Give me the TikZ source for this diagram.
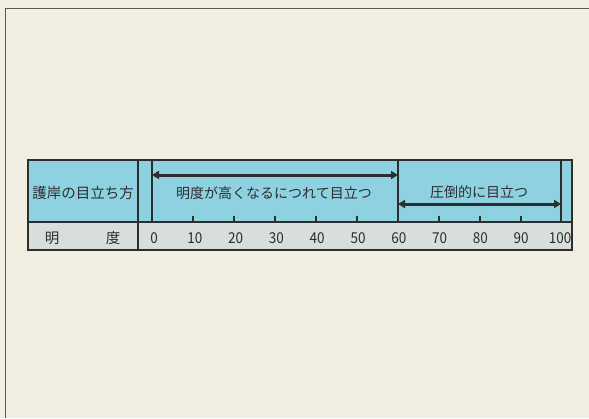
\documentclass[tikz,border=0pt]{standalone}
\usepackage{fontspec}
\setmainfont{Noto Sans CJK JP}
\usetikzlibrary{arrows.meta}
\definecolor{paper}{RGB}{241,239,226}
\definecolor{cyanfill}{RGB}{142,210,226}
\definecolor{greyfill}{RGB}{216,222,218}
\definecolor{ink}{RGB}{45,45,45}
\tikzset{
  lbl/.style={font=\fontsize{14}{15}\selectfont, text=ink, inner sep=0pt},
  hdr/.style={font=\fontsize{14.5}{15}\selectfont, text=ink, inner sep=0pt},
  num/.style={font=\fontsize{15}{16}\selectfont, text=ink, inner sep=0pt, xscale=0.9, transform shape},
  thin line/.style={draw=ink, line width=1.2pt},
  rangearrow/.style={draw=ink, line width=3pt, {Triangle[length=7pt,width=8pt]}-{Triangle[length=7pt,width=8pt]}},
  tickmark/.style={draw=ink, line width=1.1pt}
}
\begin{document}
\begin{tikzpicture}[x=1pt,y=-1pt]
\useasboundingbox (0,0) rectangle (589,418);
\fill[paper] (0,0) rectangle (589,418);
% page frame
\draw[ink!80, line width=0.8pt] (5,418) -- (5,8) -- (589,8);
% table fills
\fill[cyanfill] (28,160) rectangle (572,222);
\fill[greyfill] (28,222) rectangle (572,250);
% internal lines
\draw[thin line] (28,222) -- (572,222);
\draw[thin line] (138,160) -- (138,250);
\draw[thin line] (152,160) -- (152,222);
\draw[thin line] (398,160) -- (398,222);
\draw[thin line] (561,160) -- (561,222);
% ticks
\foreach \i in {1,...,9} {
  \pgfmathsetmacro{\xx}{152+41*\i}
  \draw[tickmark] (\xx,215.5) -- (\xx,222);
}
% outer border
\draw[draw=ink, line width=2.6pt] (28,160) rectangle (572,250);
% arrows
\coordinate (a1) at (152,175);
\coordinate (b1) at (398,175);
\coordinate (a2) at (398,204);
\coordinate (b2) at (561,204);
\draw[rangearrow] (a1) -- (b1);
\draw[rangearrow] (a2) -- (b2);
% labels
\node[hdr] (h1) at (83,193) {護岸の目立ち方};
\node[lbl] (t1) at (274,193) {明度が高くなるにつれて目立つ};
\node[lbl] (t2) at (479,192) {圧倒的に目立つ};
\node[hdr] (m1) at (52,238) {明};
\node[hdr] (m2) at (113,238) {度};
\foreach \i/\v in {0/0,1/10,2/20,3/30,4/40,5/50,6/60,7/70,8/80,9/90} {
  \node[num] (n\i) at (154+40.8*\i,238.5) {\v};
}
\node[num] (n10) at (560,238.5) {100};
\end{tikzpicture}
\end{document}
